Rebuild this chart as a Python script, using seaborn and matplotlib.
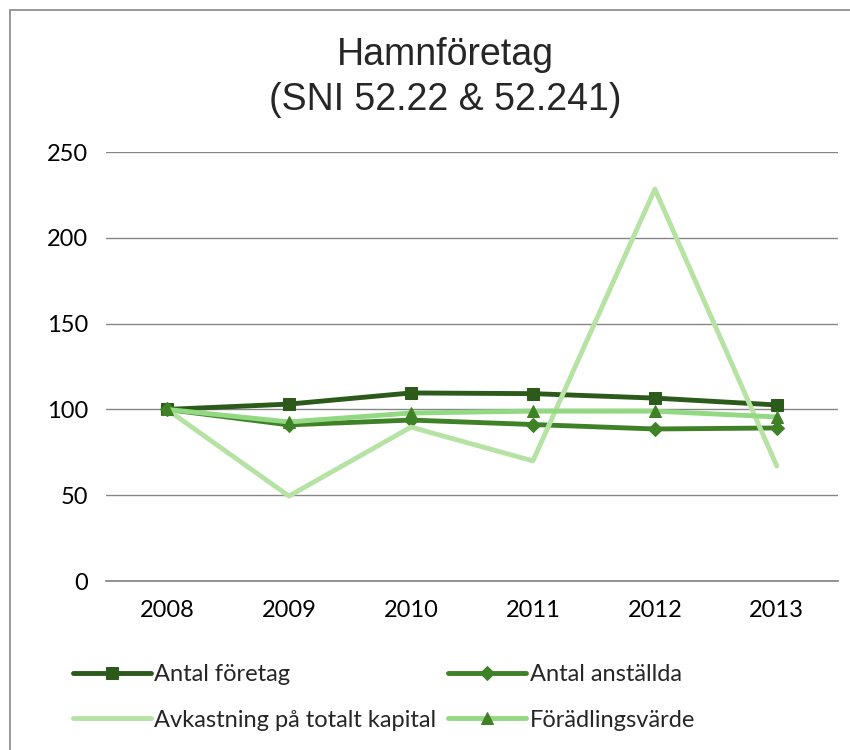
import matplotlib
matplotlib.use("Agg")
import matplotlib.pyplot as plt
import seaborn as sns
import pandas as pd
from matplotlib.patches import Rectangle

# --- data (index, 2008 = 100) ---
years = [2008, 2009, 2010, 2011, 2012, 2013]
antal_foretag = [100, 103.1, 109.6, 109.2, 106.6, 102.6]
antal_anstallda = [100, 91.0, 93.8, 91.2, 88.6, 89.2]
avkastning = [100, 49.5, 89.7, 70.0, 228.4, 67.0]
foradlingsvarde = [100, 92.7, 97.9, 99.0, 99.0, 95.6]

series_names = ["Antal företag", "Antal anställda",
                "Avkastning på totalt kapital", "Förädlingsvärde"]

sns.set_theme(style="white")
plt.rcParams["font.family"] = ["Lato", "DejaVu Sans"]

fig = plt.figure(figsize=(8.5, 7.5), dpi=100)
ax = fig.add_axes([0.1247, 0.2253, 0.861, 0.572])

# frame around the whole chart, Excel style
fig.patches.append(Rectangle((0.012, -0.01), 1.0, 0.997, transform=fig.transFigure,
                             fill=False, edgecolor="#888888", linewidth=1.2))

styles = [
    dict(color="#2b5a1a", marker="s", ms=8, mfc="#2b5a1a", lw=3.5),
    dict(color="#3f8126", marker="D", ms=7, mfc="#3f8126", lw=3.5),
    dict(color="#b6e3a4", marker=None, ms=0, mfc="none", lw=3.5),
    dict(color="#93d882", marker="^", ms=9, mfc="#3f8126", lw=3.5),
]
values = [antal_foretag, antal_anstallda, avkastning, foradlingsvarde]

for name, vals, st in zip(series_names, values, styles):
    df = pd.DataFrame({"year": years, "value": vals})
    sns.lineplot(data=df, x="year", y="value", ax=ax, color=st["color"],
                 linewidth=st["lw"], marker=st["marker"], markersize=st["ms"],
                 markerfacecolor=st["mfc"], markeredgecolor=st["mfc"],
                 label=name)

ax.set_xlim(2007.5, 2013.5)
ax.set_ylim(0, 250)
ax.set_yticks(range(0, 251, 50))
ax.set_xticks(years)
ax.grid(axis="y", color="#868686", linewidth=1)
ax.grid(axis="x", visible=False)
for s in ["top", "right", "left"]:
    ax.spines[s].set_visible(False)
ax.spines["bottom"].set_color("#868686")
ax.tick_params(axis="both", length=0, labelsize=17, colors="black")
ax.tick_params(axis="y", pad=13)
ax.tick_params(axis="x", pad=14)
ax.set_xlabel("")
ax.set_ylabel("")

title_font = ["Liberation Sans Narrow", "Liberation Sans", "DejaVu Sans"]
fig.text(0.524, 0.927, "Hamnföretag", ha="center", va="center", fontsize=27,
         family=title_font)
fig.text(0.524, 0.866, "(SNI 52.22 & 52.241)", ha="center", va="center", fontsize=27,
         family=title_font)

# row-wise legend order, like Excel
h, l = ax.get_legend_handles_labels()
order = [0, 2, 1, 3]
ax.legend([h[i] for i in order], [l[i] for i in order],
          loc="upper left", bbox_to_anchor=(-0.058, -0.171), ncol=2, frameon=False,
          fontsize=17, handlelength=3.3, handletextpad=0.15, columnspacing=0.5,
          labelspacing=1.05, borderaxespad=0)

fig.savefig("out.png", dpi=100)
